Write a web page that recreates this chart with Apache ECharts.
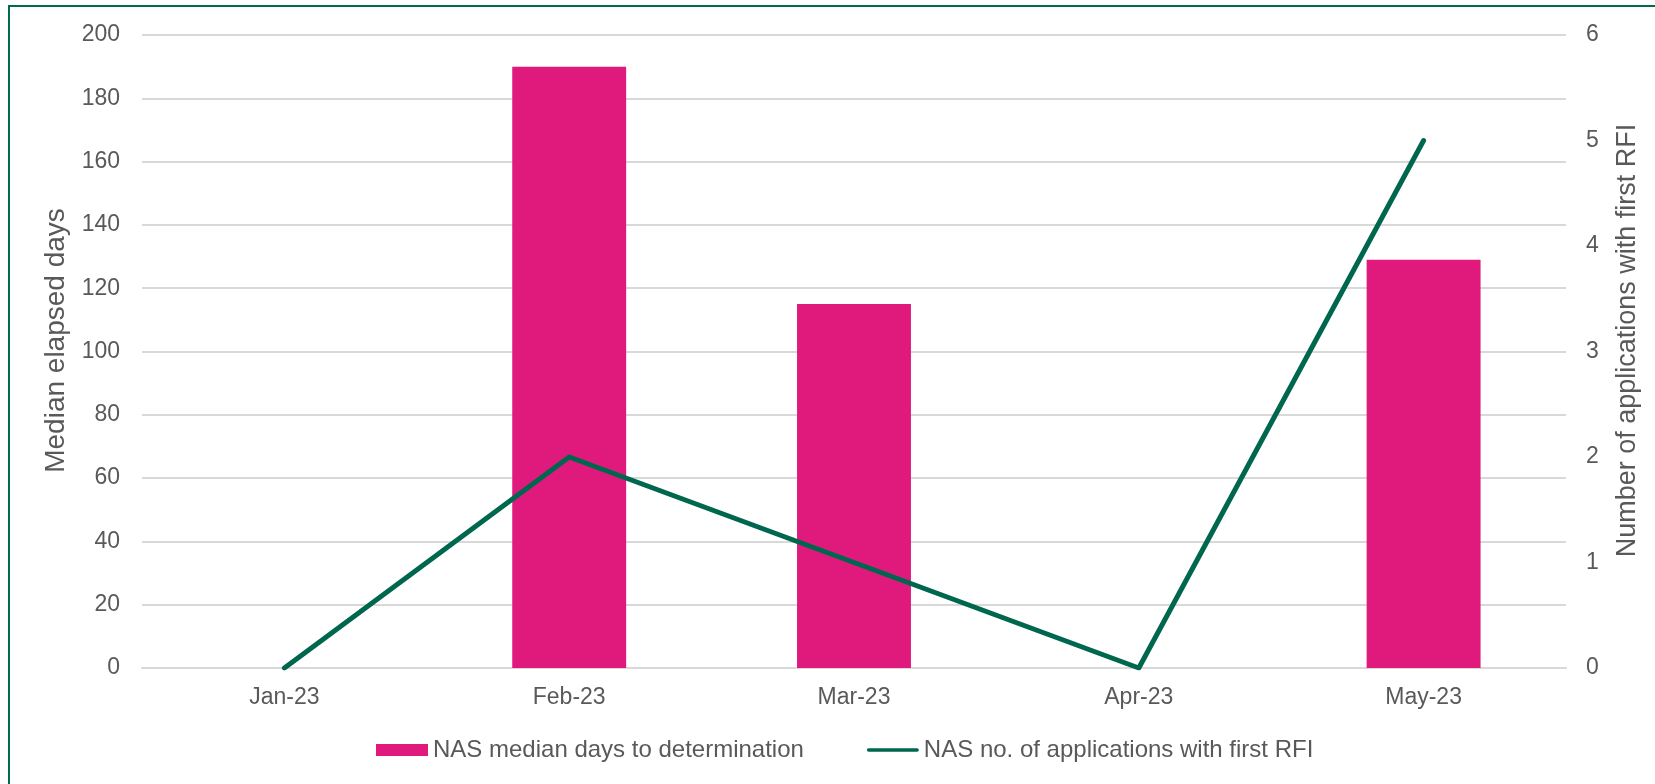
<!DOCTYPE html>
<html>
<head>
<meta charset="utf-8">
<script src="https://cdn.jsdelivr.net/npm/echarts@6/dist/echarts.min.js"></script>
<style>
  html, body { margin: 0; padding: 0; background: #fff; }
  #chart { width: 1655px; height: 784px; }
  .frame {
    position: absolute; left: 8px; top: 5px; width: 1700px; height: 900px;
    border-left: 2px solid #006a4e; border-top: 2px solid #006a4e;
    pointer-events: none;
  }
</style>
</head>
<body>
<div id="chart"></div>
<div class="frame"></div>
<script>
  const months = ['Jan-23', 'Feb-23', 'Mar-23', 'Apr-23', 'May-23']
  const medianDays = ['-', 190, 115, '-', 129]
  const firstRfi = [0, 2, 1, 0, 5]

  const textColor = '#595959'
  const font = 'Liberation Sans, Arial, sans-serif'

  const chart = echarts.init(document.getElementById('chart'))

  chart.setOption({
    animation: false,
    textStyle: { fontFamily: font },
    grid: { left: 142, right: 89, top: 35, bottom: 116 },
    legend: {
      bottom: 17,
      left: 371,
      itemWidth: 52,
      itemHeight: 12,
      itemGap: 63,
      symbolKeepAspect: true,
      textStyle: { color: textColor, fontSize: 24, fontFamily: font },
      data: [
        { name: 'NAS median days to determination', icon: 'rect' },
        {
          name: 'NAS no. of applications with first RFI',
          // plain line marker, no dot
          icon: 'path://M2,0 H55 A2,2 0 0 1 55,4 H2 A2,2 0 0 1 2,0 Z'
        }
      ]
    },
    xAxis: {
      type: 'category',
      data: months,
      axisLine: { lineStyle: { color: '#d9d9d9', width: 2 } },
      axisTick: { show: false },
      axisLabel: { color: textColor, fontSize: 23, margin: 18 }
    },
    yAxis: [
      {
        type: 'value',
        name: 'Median elapsed days',
        nameLocation: 'middle',
        nameRotate: 90,
        nameGap: 68,
        nameTextStyle: { color: textColor, fontSize: 28, padding: [0, 0, 0, 22] },
        min: 0,
        max: 200,
        interval: 20,
        axisLine: { show: false },
        axisTick: { show: false },
        axisLabel: { color: textColor, fontSize: 23, margin: 22 },
        splitLine: { lineStyle: { color: '#d9d9d9', width: 2 } }
      },
      {
        type: 'value',
        name: 'Number of applications with first RFI',
        nameLocation: 'middle',
        nameRotate: 90,
        nameGap: 48,
        nameTextStyle: { color: textColor, fontSize: 27, padding: [0, 0, 0, 22] },
        min: 0,
        max: 6,
        interval: 1,
        axisLine: { show: false },
        axisTick: { show: false },
        axisLabel: { color: textColor, fontSize: 23, margin: 20 },
        splitLine: { show: false }
      }
    ],
    series: [
      {
        name: 'NAS median days to determination',
        type: 'bar',
        data: medianDays,
        barWidth: '40%',
        itemStyle: { color: '#e0197d' }
      },
      {
        name: 'NAS no. of applications with first RFI',
        type: 'line',
        yAxisIndex: 1,
        data: firstRfi,
        symbol: 'none',
        lineStyle: { color: '#00674f', width: 5, cap: 'round', join: 'round' },
        itemStyle: { color: '#00674f' }
      }
    ]
  })
</script>
</body>
</html>
